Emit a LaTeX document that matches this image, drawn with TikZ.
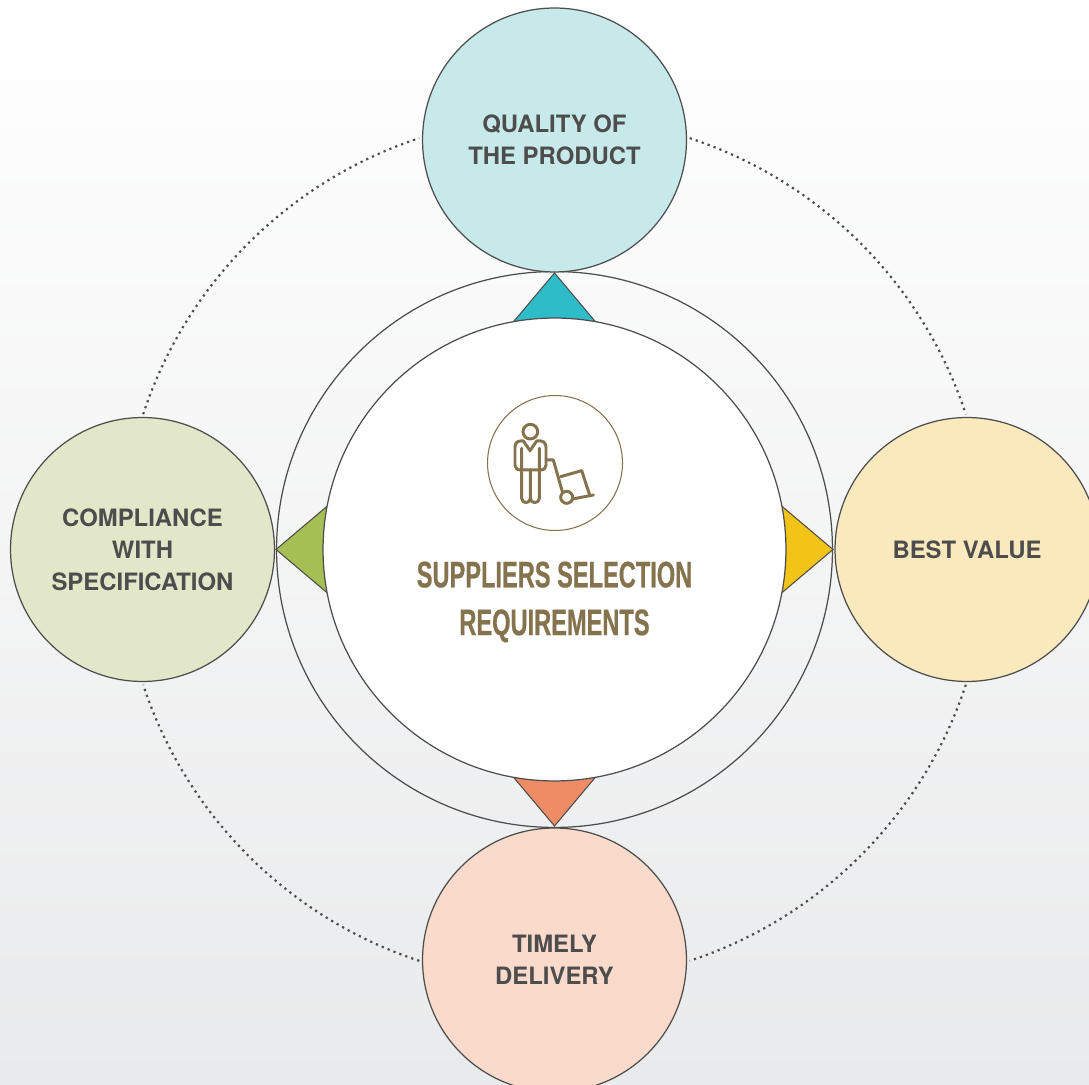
\documentclass[tikz,border=0pt]{standalone}
\usepackage{fontspec}
\setmainfont{TeX Gyre Heros}
\newfontfamily\titlefont[FakeStretch=0.64,BoldFeatures={FakeBold=0.6}]{Liberation Sans}
\definecolor{linegray}{HTML}{4D4D4D}
\definecolor{brownish}{HTML}{85734D}
\definecolor{bgbottom}{HTML}{E9EAEB}
\tikzset{
  reqcircle/.style={circle,draw=linegray,line width=0.7pt,minimum size=5.28cm,inner sep=0pt,align=center,
    text=linegray,font=\fontsize{13.6}{18.1}\selectfont\bfseries},
  tip/.style={draw=linegray,line width=0.6pt},
  ring/.style={circle,draw=linegray,line width=0.7pt,inner sep=0pt},
  dotline/.style={draw=linegray,line width=1.25pt,dash pattern=on 1.25pt off 2.35pt},
  icon/.style={draw=brownish,line width=1.7pt,line join=round,line cap=round}
}
\begin{document}
\begin{tikzpicture}[x=0.02cm,y=0.02cm]
\useasboundingbox (0,0) rectangle (1089,1085);
\clip (0,0) rectangle (1089,1085);
\fill[top color=white,bottom color=bgbottom] (0,0) rectangle (1089,1085);

\coordinate (center) at (554.5,535.5);
\draw[dotline] (center) ++(71.8:433) arc[start angle=71.8,end angle=18.2,radius=433];
\draw[dotline] (center) ++(-18.2:433) arc[start angle=-18.2,end angle=-71.8,radius=433];
\draw[dotline] (center) ++(-108.2:433) arc[start angle=-108.2,end angle=-161.8,radius=433];
\draw[dotline] (center) ++(161.8:433) arc[start angle=161.8,end angle=108.2,radius=433];

\node[ring,minimum size=11.12cm] (outerring) at (center) {};

\filldraw[tip,fill={rgb,255:red,47;green,188;blue,201}] (554.5,812) --++(-42,-50) --++(84,0) -- cycle;
\filldraw[tip,fill={rgb,255:red,242;green,196;blue,23}] (833,535.5) --++(-52,44) --++(0,-88) -- cycle;
\filldraw[tip,fill={rgb,255:red,238;green,140;blue,102}] (554.5,259) --++(-42,50) --++(84,0) -- cycle;
\filldraw[tip,fill={rgb,255:red,165;green,191;blue,85}] (276,535.5) --++(52,44) --++(0,-88) -- cycle;

\node[ring,fill=white,minimum size=9.26cm] (innerring) at (center) {};

\node[reqcircle,fill={rgb,255:red,200;green,233;blue,234}] (quality) at (554.5,945) {QUALITY OF\\THE PRODUCT};
\node[reqcircle,fill={rgb,255:red,250;green,233;blue,189}] (bestvalue) at (967,535.5) {BEST VALUE};
\node[reqcircle,fill={rgb,255:red,249;green,218;blue,203}] (delivery) at (554.5,125) {TIMELY\\DELIVERY};
\node[reqcircle,fill={rgb,255:red,226;green,231;blue,201}] (compliance) at (142.5,535.5) {COMPLIANCE\\WITH\\SPECIFICATION};

\node[align=center,text=brownish,font=\titlefont\fontsize{21}{27.2}\selectfont\bfseries] (title) at (554.5,483)
{SUPPLIERS SELECTION\\REQUIREMENTS};

\node[circle,draw=brownish,line width=0.6pt,minimum size=2.7cm,inner sep=0pt] (iconring) at (555,622) {};

\begin{scope}[shift={(470,705)},x=0.00667cm,y=-0.00667cm]
\draw[icon] (181,155) circle [radius=22];
\draw[icon] (200,183) -- (180,212) -- (160,183) -- (152,183) .. controls (140,183) and (135,192) .. (135,202)
--++(0,54) .. controls (135,265) and (142,270) .. (152,270) --++(58,0) .. controls (222,270) and (228,265) .. (228,256)
--++(0,-54) .. controls (228,192) and (222,183) .. (212,183) -- cycle;
\draw[icon] (155,205) --++(0,150) .. controls (155,372) and (181,372) .. (181,355) --++(0,-85);
\draw[icon] (181,355) .. controls (181,372) and (208,372) .. (208,355) --++(0,-150);
\draw[icon] (228,240) --++(22,0) -- (277,335);
\draw[icon] (272,290) -- (335,272) -- (360,348);
\draw[icon] (308,357) -- (370,345);
\draw[icon] (290,352) circle [radius=18];
\end{scope}
\end{tikzpicture}
\end{document}
